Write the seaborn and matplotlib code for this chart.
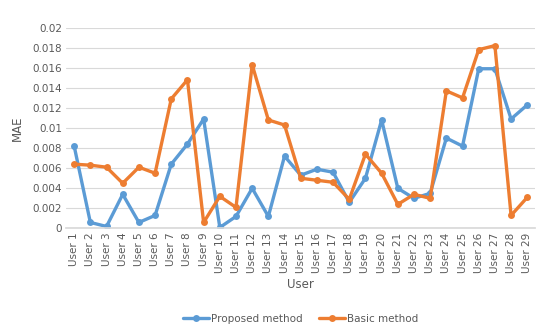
import matplotlib
matplotlib.use("Agg")
import matplotlib.pyplot as plt
import seaborn as sns
import pandas as pd

users = [f"User {i}" for i in range(1, 30)]
proposed = [0.0082, 0.0006, 0.0002, 0.0034, 0.0006, 0.0013, 0.0064, 0.0084, 0.0109, 0.0001,
            0.0012, 0.0040, 0.0012, 0.0072, 0.0053, 0.0059, 0.0056, 0.0026, 0.0050, 0.0108,
            0.0040, 0.0030, 0.0035, 0.0090, 0.0082, 0.0159, 0.0159, 0.0109, 0.0123]
basic = [0.0064, 0.0063, 0.0061, 0.0045, 0.0061, 0.0055, 0.0129, 0.0148, 0.0006, 0.0032,
         0.0021, 0.0163, 0.0108, 0.0103, 0.0050, 0.0048, 0.0046, 0.0029, 0.0074, 0.0055,
         0.0024, 0.0034, 0.0030, 0.0137, 0.0130, 0.0178, 0.0182, 0.0013, 0.0031]
y_ticks = [0, 0.002, 0.004, 0.006, 0.008, 0.01, 0.012, 0.014, 0.016, 0.018, 0.02]
y_tick_labels = ["0", "0.002", "0.004", "0.006", "0.008", "0.01", "0.012", "0.014", "0.016", "0.018", "0.02"]

df = pd.DataFrame({
    "User": users * 2,
    "MAE": proposed + basic,
    "Method": ["Proposed method"] * len(users) + ["Basic method"] * len(users),
})

sns.set_theme(style="white")
plt.rcParams['font.family'] = ['DejaVu Sans']

fig = plt.figure(figsize=(5.6, 3.36), dpi=100)
ax = fig.add_axes([0.118, 0.32, 0.838, 0.598])

sns.lineplot(data=df, x="User", y="MAE", hue="Method", sort=False,
             palette={"Proposed method": "#5B9BD5", "Basic method": "#ED7D31"},
             marker="o", markersize=5, markeredgewidth=0, linewidth=2.4, ax=ax)

ax.set_ylim(0, 0.02)
ax.set_xlim(-0.5, len(users) - 0.5)
ax.set_yticks(y_ticks)
ax.set_yticklabels(y_tick_labels, fontsize=7.5, color="#595959")
ax.set_xticks(range(len(users)))
ax.set_xticklabels(users, rotation=90, fontsize=7.5, color="#595959")
ax.tick_params(axis="both", length=0, pad=3)
ax.yaxis.grid(True, color="#D9D9D9", linewidth=0.8)
ax.xaxis.grid(False)
for s in ["top", "right", "left"]:
    ax.spines[s].set_visible(False)
ax.spines["bottom"].set_color("#D9D9D9")
ax.set_xlabel("User", fontsize=8.5, color="#595959", labelpad=4)
ax.set_ylabel("MAE", fontsize=8.5, color="#595959", labelpad=6)

handles, labels = ax.get_legend_handles_labels()
ax.legend(handles, labels, loc="lower center", bbox_to_anchor=(0.5, -0.52),
          ncol=2, frameon=False, fontsize=7.5, labelcolor="#595959",
          handlelength=2.5, columnspacing=1.5, handletextpad=0.2)

fig.savefig("out.png", dpi=100)
